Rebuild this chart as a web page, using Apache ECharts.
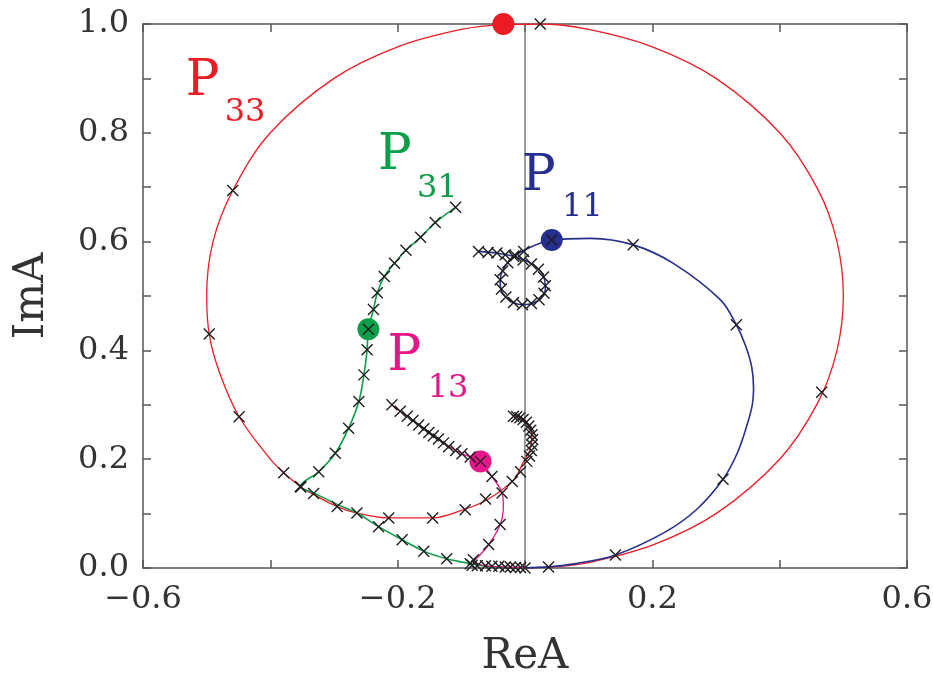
<!DOCTYPE html>
<html>
<head>
<meta charset="utf-8">
<title>Argand diagram</title>
<script src="https://cdn.jsdelivr.net/npm/echarts@6/dist/echarts.min.js"></script>
<style>
html, body { margin: 0; padding: 0; background: #fff; }
#main { width: 933px; height: 681px; }
</style>
</head>
<body>
<div id="main"></div>
<script>
// ---- data (ReA, ImA) ----
const p33Curve = [
  [0, 0], [0.05, 0.0025], [0.1, 0.01], [0.2, 0.042], [0.3, 0.1], [0.4, 0.2], [0.46, 0.304],
  [0.49, 0.4], [0.5, 0.5], [0.49, 0.6], [0.46, 0.696], [0.4, 0.8], [0.3, 0.9], [0.2, 0.958],
  [0.1, 0.99], [0.024, 1.0], [-0.034, 0.999], [-0.1, 0.99], [-0.2, 0.958], [-0.3, 0.9],
  [-0.4, 0.8], [-0.459, 0.694], [-0.49, 0.6], [-0.5, 0.5], [-0.496, 0.43], [-0.48, 0.36],
  [-0.449, 0.278], [-0.4, 0.2], [-0.379, 0.175], [-0.352, 0.149], [-0.332, 0.135],
  [-0.295, 0.113], [-0.264, 0.101], [-0.214, 0.092], [-0.145, 0.092], [-0.097, 0.107],
  [-0.060, 0.125], [-0.018, 0.162], [-0.002, 0.196], [0.008, 0.217], [0.011, 0.242],
  [0.006, 0.263], [-0.005, 0.276], [-0.018, 0.279]
];
const p33Crosses = [
  [0.037, 0.002], [0.466, 0.323], [0.024, 1.0], [-0.459, 0.694], [-0.496, 0.43], [-0.449, 0.278],
  [-0.379, 0.175], [-0.352, 0.149], [-0.332, 0.137], [-0.295, 0.113], [-0.264, 0.101],
  [-0.214, 0.092], [-0.145, 0.092], [-0.094, 0.107], [-0.062, 0.127], [-0.020, 0.159],
  [-0.007, 0.177], [0.003, 0.196], [0.007, 0.206], [0.010, 0.216], [0.011, 0.226], [0.012, 0.236],
  [0.011, 0.245], [0.009, 0.253], [0.006, 0.261], [0.002, 0.268], [-0.003, 0.273],
  [-0.008, 0.276], [-0.013, 0.278], [-0.018, 0.279]
];

const p11Curve = [
  [0, 0], [0.037, 0.002], [0.08, 0.008], [0.142, 0.024], [0.22, 0.066], [0.27, 0.108],
  [0.311, 0.163], [0.333, 0.21], [0.348, 0.26], [0.357, 0.30], [0.359, 0.33], [0.356, 0.37],
  [0.346, 0.41], [0.332, 0.447], [0.307, 0.493], [0.233, 0.56], [0.17, 0.594], [0.103, 0.606],
  [0.042, 0.603], [0.0, 0.585], [-0.022, 0.568], [-0.036, 0.545], [-0.039, 0.523],
  [-0.030, 0.498], [-0.004, 0.484], [0.020, 0.491], [0.032, 0.512], [0.028, 0.540],
  [0.012, 0.558], [-0.010, 0.570], [-0.040, 0.578], [-0.073, 0.582]
];
const p11Crosses = [
  [0.142, 0.024], [0.311, 0.163], [0.332, 0.447], [0.170, 0.594], [0.042, 0.603], [-0.002, 0.582],
  [-0.015, 0.574], [-0.027, 0.561], [-0.035, 0.546], [-0.039, 0.530], [-0.037, 0.513],
  [-0.030, 0.498], [-0.018, 0.488], [-0.004, 0.484], [0.010, 0.486], [0.022, 0.493],
  [0.030, 0.505], [0.032, 0.519], [0.029, 0.535], [0.021, 0.549], [0.010, 0.559],
  [-0.003, 0.566], [-0.018, 0.573], [-0.031, 0.576], [-0.044, 0.579], [-0.058, 0.580],
  [-0.073, 0.582]
];

const p31Curve = [
  [0, 0], [-0.03, 0.001], [-0.06, 0.003], [-0.086, 0.008], [-0.123, 0.017], [-0.159, 0.031],
  [-0.193, 0.052], [-0.230, 0.076], [-0.264, 0.101], [-0.295, 0.117], [-0.332, 0.138],
  [-0.353, 0.150], [-0.324, 0.177], [-0.298, 0.211], [-0.277, 0.257], [-0.261, 0.306],
  [-0.253, 0.355], [-0.248, 0.401], [-0.246, 0.439], [-0.238, 0.475], [-0.232, 0.506],
  [-0.221, 0.536], [-0.205, 0.560], [-0.187, 0.584], [-0.164, 0.608], [-0.141, 0.635],
  [-0.109, 0.663]
];
const p31Crosses = [
  [-0.109, 0.663], [-0.141, 0.635], [-0.164, 0.608], [-0.187, 0.584], [-0.205, 0.560],
  [-0.221, 0.536], [-0.232, 0.506], [-0.238, 0.475], [-0.246, 0.439], [-0.248, 0.401],
  [-0.253, 0.355], [-0.261, 0.306], [-0.277, 0.257], [-0.298, 0.211], [-0.324, 0.177],
  [-0.353, 0.150], [-0.230, 0.076], [-0.193, 0.052], [-0.159, 0.031], [-0.123, 0.017],
  [-0.086, 0.008]
];

const p13Curve = [
  [0, 0], [-0.03, 0.002], [-0.06, 0.004], [-0.081, 0.012], [-0.073, 0.021], [-0.057, 0.043],
  [-0.039, 0.080], [-0.034, 0.113], [-0.036, 0.138], [-0.052, 0.168], [-0.070, 0.196],
  [-0.086, 0.204], [-0.109, 0.216], [-0.128, 0.230], [-0.151, 0.249], [-0.176, 0.271],
  [-0.196, 0.288], [-0.209, 0.300]
];
const p13Crosses = [
  [-0.209, 0.300], [-0.196, 0.288], [-0.185, 0.279], [-0.176, 0.271], [-0.167, 0.263],
  [-0.159, 0.256], [-0.151, 0.249], [-0.144, 0.243], [-0.136, 0.237], [-0.128, 0.230],
  [-0.120, 0.223], [-0.109, 0.216], [-0.099, 0.210], [-0.086, 0.204], [-0.070, 0.196],
  [-0.052, 0.168], [-0.036, 0.138], [-0.039, 0.080], [-0.057, 0.043], [-0.081, 0.015]
];
// dense cluster of points along the real axis near the origin
const originCrosses = [
  [-0.083, 0.005], [-0.075, 0.004], [-0.062, 0.004], [-0.052, 0.003], [-0.041, 0.003],
  [-0.031, 0.002], [-0.023, 0.002], [-0.015, 0.001], [-0.007, 0.001], [0.0, 0.0]
];

// resonance positions (big dots)
const p33Pole = [[-0.034, 1.0]];
const p11Pole = [[0.042, 0.603]];
const p31Pole = [[-0.246, 0.439]];
const p13Pole = [[-0.070, 0.196]];

const zeroLine = [[0, 0], [0, 1]];

const xTicks = [-0.6, -0.2, 0.2, 0.6];

// ---- chart ----
const SERIF = '"DejaVu Serif", "Liberation Serif", serif';
const RED = '#ec1c24', GREEN = '#0e9d48', BLUE = '#262f8e', PINK = '#e6168a';
const FRAME = '#555';

// label anchors (top-left of the text, in data coordinates)
const labels = [
  { text: 'P', at: [-0.532, 0.938], size: 50, color: RED },
  { text: '33', at: [-0.471, 0.866], size: 32, color: RED },
  { text: 'P', at: [-0.230, 0.802], size: 50, color: GREEN },
  { text: '31', at: [-0.169, 0.726], size: 32, color: GREEN },
  { text: 'P', at: [-0.004, 0.763], size: 50, color: BLUE },
  { text: '11', at: [0.059, 0.690], size: 32, color: BLUE },
  { text: 'P', at: [-0.215, 0.433], size: 50, color: PINK },
  { text: '13', at: [-0.152, 0.359], size: 32, color: PINK }
];

function xLabel(v) {
  const k = Math.round(v * 10);
  const t = xTicks.findIndex(x => Math.round(x * 10) === k);
  if (t < 0) return '';
  return (k < 0 ? '\u2212' : '') + (Math.abs(k) / 10).toFixed(1);
}
function yLabel(v) {
  const k = Math.round(v * 10);
  return k % 2 === 0 ? (k / 10).toFixed(1) : '';
}

const axisLine = { onZero: false, lineStyle: { color: FRAME, width: 1.5 } };
const axisTick = { inside: true, length: 8, lineStyle: { color: FRAME, width: 1.5 } };

function lineSeries(data, color, width) {
  return {
    type: 'line', data: data, showSymbol: false, smooth: 0.35,
    lineStyle: { color: color, width: width }, z: 2, silent: true
  };
}
function crossSeries(data) {
  return {
    type: 'scatter', data: data, symbol: 'path://M0 0L10 10M10 0L0 10', symbolSize: 11,
    itemStyle: { color: 'rgba(0,0,0,0)', borderColor: '#1e1e1e', borderWidth: 1.4, opacity: 1 },
    z: 5, silent: true
  };
}
function poleSeries(data, color) {
  return {
    type: 'scatter', data: data, symbol: 'circle', symbolSize: 22, clip: false,
    itemStyle: { color: color, opacity: 1 }, z: 4, silent: true
  };
}

const labelSeries = labels.map(l => ({
  type: 'scatter', data: [l.at], symbol: 'rect', symbolSize: 1,
  itemStyle: { color: 'rgba(0,0,0,0)', opacity: 1 }, z: 6, silent: true,
  label: {
    show: true, position: [0, 0], align: 'left', verticalAlign: 'top', opacity: 1,
    formatter: l.text, fontFamily: SERIF, fontSize: l.size, lineHeight: l.size, color: l.color
  }
}));

const chart = echarts.init(document.getElementById('main'));
chart.setOption({
  animation: false,
  backgroundColor: '#fff',
  grid: { left: 143, right: 26, top: 24, bottom: 113, containLabel: false, outerBoundsMode: 'none' },
  xAxis: [
    {
      type: 'value', min: -0.6, max: 0.6, interval: 0.2, position: 'bottom',
      axisLine: axisLine, axisTick: axisTick, splitLine: { show: false },
      axisLabel: { formatter: xLabel, fontFamily: SERIF, fontSize: 32, color: '#333', margin: 16,
        showMinLabel: true, showMaxLabel: true, hideOverlap: false },
      name: 'ReA', nameLocation: 'middle', nameGap: 68,
      nameTextStyle: { fontFamily: SERIF, fontSize: 42, color: '#333' }
    },
    {
      type: 'value', min: -0.6, max: 0.6, interval: 0.2, position: 'top',
      axisLine: axisLine, axisTick: axisTick, splitLine: { show: false }, axisLabel: { show: false }
    }
  ],
  yAxis: [
    {
      type: 'value', min: 0, max: 1, interval: 0.1, position: 'left',
      axisLine: axisLine, axisTick: axisTick, splitLine: { show: false },
      axisLabel: { formatter: yLabel, fontFamily: SERIF, fontSize: 32, color: '#333', margin: 14,
        showMinLabel: true, showMaxLabel: true, hideOverlap: false },
      name: 'ImA', nameLocation: 'middle', nameGap: 90, nameRotate: 90,
      nameTextStyle: { fontFamily: SERIF, fontSize: 42, color: '#333' }
    },
    {
      type: 'value', min: 0, max: 1, interval: 0.1, position: 'right',
      axisLine: axisLine, axisTick: axisTick, splitLine: { show: false }, axisLabel: { show: false }
    }
  ],
  series: [
    lineSeries(zeroLine, '#666', 1.3),
    lineSeries(p33Curve, RED, 1.3),
    lineSeries(p11Curve, BLUE, 1.6),
    lineSeries(p31Curve, GREEN, 1.6),
    lineSeries(p13Curve, PINK, 1.3),
    poleSeries(p33Pole, RED),
    poleSeries(p11Pole, BLUE),
    poleSeries(p31Pole, GREEN),
    poleSeries(p13Pole, PINK),
    crossSeries(p33Crosses),
    crossSeries(p11Crosses),
    crossSeries(p31Crosses),
    crossSeries(p13Crosses),
    crossSeries(originCrosses)
  ].concat(labelSeries)
});
</script>
</body>
</html>
